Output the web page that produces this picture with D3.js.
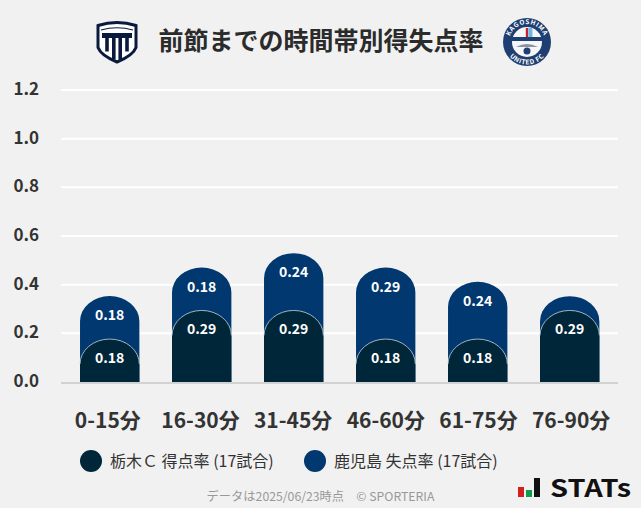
<!DOCTYPE html>
<html>
<head>
<meta charset="utf-8">
<script src="https://cdn.jsdelivr.net/npm/d3@7"></script>
<style>
html,body{margin:0;padding:0;background:#f1f1f1;}
svg{display:block;}
text{font-family:"Noto Sans CJK JP","Noto Sans",sans-serif;}
</style>
</head>
<body>
<div id="chart"></div>
<script>
var categories = ["0-15分","16-30分","31-45分","46-60分","61-75分","76-90分"];
var scored = [0.1765,0.2941,0.2941,0.1765,0.1765,0.2941];
var conceded = [0.1765,0.1765,0.2353,0.2941,0.2353,0.0588];
var yTicks = [0,0.2,0.4,0.6,0.8,1.0,1.2];
var legendNames = ["栃木Ｃ 得点率 (17試合)","鹿児島 失点率 (17試合)"];
var colors = ["#00263a","#00386f"];
var titleText = "前節までの時間帯別得失点率";
var footerText = "データは2025/06/23時点　© SPORTERIA";

var W = 641, H = 508;
var svg = d3.select("#chart").append("svg").attr("width",W).attr("height",H);
svg.append("rect").attr("width",W).attr("height",H).attr("fill","#f1f1f1");

var x = d3.scaleBand().domain(categories).range([63.7,615.7]).paddingInner(0.355).paddingOuter(0.1775);
// the tick labels sit on the full plot width, a little wider than the bars
var xLabel = d3.scalePoint().domain(categories).range([61.5,617.5]).padding(0.5);
var y = d3.scaleLinear().domain([0,1.2]).range([382,90]);

// grid + y labels
svg.selectAll("line.grid").data(yTicks.slice(1)).enter().append("line")
	.attr("class","grid")
	.attr("x1",61).attr("x2",618)
	.attr("y1",d => y(d)).attr("y2",d => y(d))
	.attr("stroke","#fff").attr("stroke-width",2);

svg.selectAll("text.ytick").data(yTicks).enter().append("text")
	.attr("class","ytick")
	.attr("x",39).attr("y",d => y(d)-1)
	.attr("dy","0.36em")
	.attr("text-anchor","end")
	.attr("font-size",17).attr("font-weight",700).attr("fill","#333")
	.text(d => d.toFixed(1));

// bar with rounded top, rx/ry are the corner radii
function capBar(x0,w,top,bottom,rx,ry){
	return "M"+x0+","+bottom+"V"+(top+ry)
		+"A"+rx+","+ry+" 0 0 1 "+(x0+rx)+","+top
		+"A"+rx+","+ry+" 0 0 1 "+(x0+w)+","+(top+ry)
		+"V"+bottom+"Z";
}
var rx = x.bandwidth()/2, ry = 25;

svg.selectAll("path.conceded").data(categories).enter().append("path")
	.attr("class","conceded")
	.attr("fill",colors[1])
	.attr("d",(d,i) => capBar(x(d),x.bandwidth(),y(scored[i]+conceded[i]),y(0),rx,ry));

svg.selectAll("path.scored").data(categories).enter().append("path")
	.attr("class","scored")
	.attr("fill",colors[0])
	.attr("d",(d,i) => capBar(x(d),x.bandwidth(),y(scored[i]),y(0),rx,ry));

// thin light edge on the dark caps
svg.selectAll("path.edge").data(categories).enter().append("path")
	.attr("class","edge")
	.attr("fill","none").attr("stroke","#c9d3da").attr("stroke-width",0.8)
	.attr("d",(d,i) => {
		var t = y(scored[i]), x0 = x(d);
		return "M"+x0+","+(t+ry)+"A"+rx+","+ry+" 0 0 1 "+(x0+rx)+","+t+"A"+rx+","+ry+" 0 0 1 "+(x0+2*rx)+","+(t+ry);
	});

svg.append("line").attr("x1",61).attr("x2",618).attr("y1",y(0)+1).attr("y2",y(0)+1)
	.attr("stroke","#d2d2d2").attr("stroke-width",2);

// value labels, the small last segment has none
function valueLabels(cls,vals,base){
	svg.selectAll("text."+cls).data(categories).enter().append("text")
		.attr("class",cls)
		.filter((d,i) => vals[i] > 0.1)
		.attr("x",d => x(d)+x.bandwidth()/2)
		.attr("y",d => y(base(categories.indexOf(d)))+19)
		.attr("dy","0.36em")
		.attr("text-anchor","middle")
		.attr("font-size",14).attr("font-weight",700).attr("fill","#fff")
		.text(d => vals[categories.indexOf(d)].toFixed(2));
}
valueLabels("lab2",conceded,i => scored[i]+conceded[i]);
valueLabels("lab1",scored,i => scored[i]);

svg.selectAll("text.xtick").data(categories).enter().append("text")
	.attr("class","xtick")
	.attr("x",d => xLabel(d)).attr("y",420.5)
	.attr("dy","0.36em")
	.attr("text-anchor","middle")
	.attr("font-size",21).attr("font-weight",700).attr("fill","#333")
	.text(d => d);

// title
svg.append("text").attr("x",321).attr("y",41).attr("dy","0.36em")
	.attr("text-anchor","middle")
	.attr("font-size",25).attr("font-weight",700).attr("fill","#2b2b2b")
	.text(titleText);

// legend
var legendX = [91,315];
legendNames.forEach(function(name,i){
	svg.append("circle").attr("cx",legendX[i]).attr("cy",461).attr("r",11).attr("fill",colors[i]);
	svg.append("text").attr("x",legendX[i]+19).attr("y",461).attr("dy","0.36em")
		.attr("font-size",16).attr("fill","#333").text(name);
});

svg.append("text").attr("x",320.5).attr("y",497).attr("dy","0.36em")
	.attr("text-anchor","middle")
	.attr("font-size",12.25).attr("fill","#999")
	.text(footerText);

// STATs mark
var stats = svg.append("g");
stats.append("rect").attr("x",518).attr("y",487).attr("width",6).attr("height",10).attr("fill","#d0211c");
stats.append("rect").attr("x",526).attr("y",490).attr("width",6).attr("height",7).attr("fill","#0f9d4a");
stats.append("rect").attr("x",534).attr("y",478).attr("width",6).attr("height",19).attr("fill","#111");
stats.append("text").attr("x",550).attr("y",497)
	.attr("font-family","'DejaVu Sans'")
	.attr("font-size",24).attr("font-weight",700).attr("fill","#111").attr("textLength",81).attr("lengthAdjust","spacingAndGlyphs")
	.text("STATs");

// home crest
var crest = svg.append("g").attr("transform","translate(117,41.5)");
crest.append("path").attr("d","M-19,-16Q0,-22 19,-16V6Q16,14 0,20.5Q-16,14 -19,6Z")
	.attr("fill","#fff").attr("stroke","#0a1a3c").attr("stroke-width",3);
crest.append("path").attr("d","M-16,-11.5Q0,-16 16,-11.5").attr("fill","none").attr("stroke","#0a1a3c").attr("stroke-width",1.2);
crest.append("rect").attr("x",-15).attr("y",-8.5).attr("width",30).attr("height",5).attr("fill","#0a1a3c");
[-10,-3.2,3.2,10].forEach(function(p){
	crest.append("rect").attr("x",p-1.8).attr("y",-4).attr("width",3.6)
		.attr("height",Math.abs(p)>5?14:22).attr("fill","#0a1a3c");
});

// away crest
var badge = svg.append("g").attr("transform","translate(527,42)");
badge.append("circle").attr("r",24).attr("fill","#1f3f73");
badge.append("circle").attr("r",15).attr("fill","#f4f6f8");
badge.append("rect").attr("x",-15).attr("y",-5).attr("width",30).attr("height",4).attr("fill","#1f3f73");
badge.append("rect").attr("x",-1.2).attr("y",-14).attr("width",2.4).attr("height",9).attr("fill","#c8202f");
badge.append("rect").attr("x",1.4).attr("y",-14).attr("width",4).attr("height",9).attr("fill","#6cb6e0");
badge.append("path").attr("d","M-11,5Q0,-1 11,5Z").attr("fill","#8a94a6");
badge.append("circle").attr("cy",9).attr("r",3.5).attr("fill","#1f3f73");
var defs = svg.append("defs");
defs.append("path").attr("id","ringTop").attr("d","M-18,0A18,18 0 0 1 18,0");
defs.append("path").attr("id","ringBot").attr("d","M-22.5,0A22.5,22.5 0 0 0 22.5,0");
badge.append("text").attr("font-size",6.5).attr("font-weight",700).attr("fill","#fff").attr("text-anchor","middle").attr("letter-spacing",0.6)
	.append("textPath").attr("href","#ringTop").attr("startOffset","50%").text("KAGOSHIMA");
badge.append("text").attr("font-size",6.5).attr("font-weight",700).attr("fill","#fff").attr("text-anchor","middle").attr("letter-spacing",0.6)
	.append("textPath").attr("href","#ringBot").attr("startOffset","50%").text("UNITED FC");
</script>
</body>
</html>
